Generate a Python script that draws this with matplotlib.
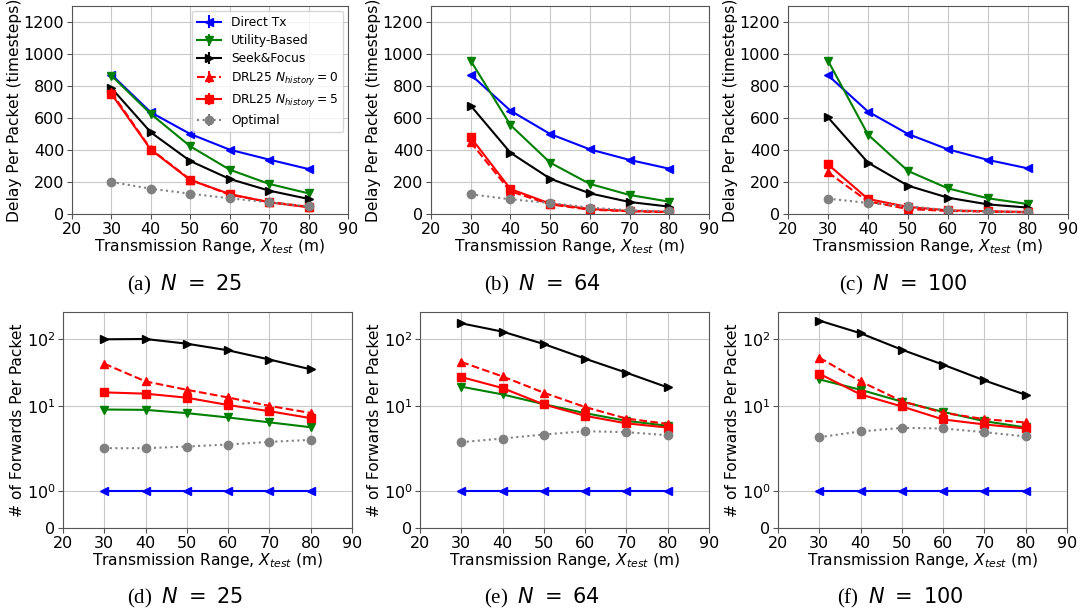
import numpy as np
import matplotlib
matplotlib.use("Agg")
import matplotlib.pyplot as plt
from matplotlib.ticker import NullLocator, FixedLocator, FixedFormatter

x_range = [30, 40, 50, 60, 70, 80]
series_names = ["Direct Tx", "Utility-Based", "Seek&Focus",
                r"DRL25 $N_{history}=0$", r"DRL25 $N_{history}=5$", "Optimal"]
captions = [r"(a)  $N\ =\ 25$", r"(b)  $N\ =\ 64$", r"(c)  $N\ =\ 100$",
            r"(d)  $N\ =\ 25$", r"(e)  $N\ =\ 64$", r"(f)  $N\ =\ 100$"]

# Delay per packet (timesteps)
delay_n25_direct = [871, 635, 500, 402, 340, 281]
delay_n25_utility = [865, 625, 423, 277, 188, 129]
delay_n25_seek = [787, 510, 331, 219, 146, 94]
delay_n25_drl0 = [760, 405, 215, 120, 75, 45]
delay_n25_drl5 = [750, 402, 212, 125, 73, 42]
delay_n25_opt = [200, 158, 127, 98, 73, 48]

delay_n64_direct = [871, 646, 500, 404, 338, 283]
delay_n64_utility = [958, 556, 321, 188, 119, 77]
delay_n64_seek = [677, 383, 221, 129, 75, 46]
delay_n64_drl0 = [448, 142, 60, 27, 17, 12]
delay_n64_drl5 = [479, 156, 65, 31, 19, 13]
delay_n64_opt = [123, 92, 69, 40, 23, 17]

delay_n100_direct = [867, 640, 500, 404, 338, 285]
delay_n100_utility = [958, 496, 269, 160, 98, 62]
delay_n100_seek = [604, 321, 177, 102, 60, 40]
delay_n100_drl0 = [260, 79, 31, 19, 15, 10]
delay_n100_drl5 = [310, 94, 44, 23, 17, 13]
delay_n100_opt = [96, 69, 50, 23, 15, 13]

# Number of forwards per packet
fwd_n25_direct = [1, 1, 1, 1, 1, 1]
fwd_n25_utility = [9.0, 8.9, 7.95, 6.85, 5.8, 4.9]
fwd_n25_seek = [100, 101, 86, 68.5, 50, 35.7]
fwd_n25_drl0 = [43.3, 23.6, 17.7, 13.6, 10.2, 8.0]
fwd_n25_drl5 = [16.2, 15.5, 13.5, 10.5, 8.5, 6.7]
fwd_n25_opt = [2.39, 2.39, 2.53, 2.71, 2.97, 3.18]

fwd_n64_direct = [1, 1, 1, 1, 1, 1]
fwd_n64_utility = [19.7, 15.1, 10.8, 7.95, 6.1, 5.15]
fwd_n64_seek = [173, 130, 85, 51.4, 31.8, 19.2]
fwd_n64_drl0 = [45.9, 28.0, 16.0, 9.8, 6.6, 5.5]
fwd_n64_drl5 = [27.4, 18.8, 10.7, 7.25, 5.6, 4.85]
fwd_n64_opt = [2.94, 3.33, 3.82, 4.28, 4.14, 3.73]

fwd_n100_direct = [1, 1, 1, 1, 1, 1]
fwd_n100_utility = [25.3, 17.7, 11.8, 8.3, 6.04, 4.86]
fwd_n100_seek = [190, 123, 70, 41.9, 24.4, 14.9]
fwd_n100_drl0 = [53.3, 23.6, 12.0, 8.05, 6.47, 5.77]
fwd_n100_drl5 = [30.7, 15.1, 10.0, 6.4, 5.4, 4.7]
fwd_n100_opt = [3.49, 4.24, 4.8, 4.7, 4.14, 3.57]

panels_data = [
    [delay_n25_direct, delay_n25_utility, delay_n25_seek, delay_n25_drl0, delay_n25_drl5, delay_n25_opt],
    [delay_n64_direct, delay_n64_utility, delay_n64_seek, delay_n64_drl0, delay_n64_drl5, delay_n64_opt],
    [delay_n100_direct, delay_n100_utility, delay_n100_seek, delay_n100_drl0, delay_n100_drl5, delay_n100_opt],
    [fwd_n25_direct, fwd_n25_utility, fwd_n25_seek, fwd_n25_drl0, fwd_n25_drl5, fwd_n25_opt],
    [fwd_n64_direct, fwd_n64_utility, fwd_n64_seek, fwd_n64_drl0, fwd_n64_drl5, fwd_n64_opt],
    [fwd_n100_direct, fwd_n100_utility, fwd_n100_seek, fwd_n100_drl0, fwd_n100_drl5, fwd_n100_opt],
]

styles = [
    dict(color="blue", marker="<", linestyle="-"),
    dict(color="green", marker="v", linestyle="-"),
    dict(color="black", marker=">", linestyle="-"),
    dict(color="red", marker="^", linestyle="--"),
    dict(color="red", marker="s", linestyle="-"),
    dict(color="gray", marker="o", linestyle=":"),
]

W, H = 1080, 613
fig = plt.figure(figsize=(W / 100, H / 100), dpi=100)

# axes boxes in pixels: left, right, top, bottom
boxes = [
    (72, 348, 6, 214), (431, 709, 6, 214), (788, 1068, 6, 214),
    (63, 352, 312, 528), (420, 709, 312, 528), (778, 1067, 312, 528),
]
caption_pos = [(185, 285), (542, 285), (903, 285), (185, 598), (542, 598), (900, 598)]

spine_col = "#555555"
for i, (l, r, t, b) in enumerate(boxes):
    ax = fig.add_axes([l / W, 1 - b / H, (r - l) / W, (b - t) / H])
    for j, ys in enumerate(panels_data[i]):
        ax.errorbar(x_range, ys, yerr=np.zeros(len(ys)), label=series_names[j],
                    linewidth=1.5, markersize=6, capsize=0, **styles[j])
    ax.set_xlim(20, 90)
    ax.set_xticks([20, 30, 40, 50, 60, 70, 80, 90])
    ax.grid(True, color="#c8c8c8", linewidth=0.8)
    ax.set_axisbelow(True)
    ax.tick_params(labelsize=11.5, color=spine_col, pad=2)
    for s in ax.spines.values():
        s.set_color(spine_col)
    ax.set_xlabel(r"Transmission Range, $X_{test}$ (m)", fontsize=11.2, labelpad=0)
    if i < 3:
        ax.set_ylim(0, 1300)
        ax.set_yticks([0, 200, 400, 600, 800, 1000, 1200])
        ax.set_ylabel("Delay Per Packet (timesteps)", fontsize=11.2, labelpad=1)
    else:
        ax.set_yscale("symlog", linthresh=2)
        ax.set_ylim(0, 255)
        ax.yaxis.set_major_locator(FixedLocator([0, 1, 10, 100]))
        ax.yaxis.set_major_formatter(FixedFormatter(["0", r"$10^0$", r"$10^1$", r"$10^2$"]))
        ax.yaxis.set_minor_locator(NullLocator())
        ax.set_ylabel("# of Forwards Per Packet", fontsize=11.2, labelpad=1)
    if i == 0:
        ax.legend(loc="upper right", fontsize=8.8, framealpha=0.8,
                  borderaxespad=0.4, labelspacing=0.42, handlelength=2.0)
    cx, cy = caption_pos[i]
    fig.text(cx / W, 1 - cy / H, captions[i], ha="center", va="center",
             fontsize=15, family="Liberation Serif")

fig.savefig("out.png", dpi=100)
